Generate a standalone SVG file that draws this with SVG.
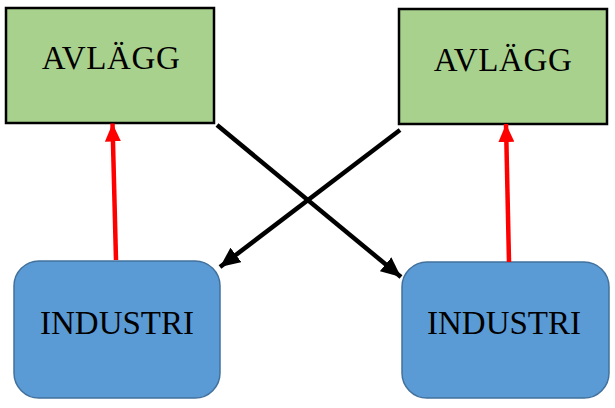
<svg xmlns="http://www.w3.org/2000/svg" width="615" height="408" viewBox="0 0 615 408">
<style>
.av{fill:#A9D18E;stroke:#000;stroke-width:2.5}
.ind{fill:#5B9BD5;stroke:#41719C;stroke-width:1.5}
.t{font-family:"Liberation Serif","Times New Roman",serif;font-size:33px;fill:#000;text-anchor:middle}
.sp{letter-spacing:0.6px}
.red{stroke:#FF0000;stroke-width:4.5;fill:none}
.blk{stroke:#000;stroke-width:4.5;fill:none}
</style>
<defs>
<marker id="ar" markerUnits="userSpaceOnUse" viewBox="0 0 18 16" refX="18" refY="8" markerWidth="18" markerHeight="16" orient="auto">
<path d="M0,0 L18,8 L0,16 Z" fill="#FF0000"/>
</marker>
<marker id="ab" markerUnits="userSpaceOnUse" viewBox="0 0 20 18" refX="20" refY="9" markerWidth="20" markerHeight="18" orient="auto">
<path d="M0,0 L20,9 L0,18 Z" fill="#000"/>
</marker>
</defs>
<g id="avlagg-left">
<rect class="av" x="6" y="8" width="208" height="115"/>
<text class="t sp" x="111" y="69">AVLÄGG</text>
</g>
<g id="avlagg-right">
<rect class="av" x="399" y="9" width="208" height="115"/>
<text class="t sp" x="503" y="71">AVLÄGG</text>
</g>
<g id="industri-left">
<rect class="ind" x="14" y="261" width="206" height="137" rx="25" ry="25"/>
<text class="t" x="117" y="334">INDUSTRI</text>
</g>
<g id="industri-right">
<rect class="ind" x="402" y="262" width="207" height="136" rx="25" ry="25"/>
<text class="t" x="504" y="334">INDUSTRI</text>
</g>
<g id="connectors">
<line class="red" x1="116" y1="260" x2="112.5" y2="123.5" marker-end="url(#ar)"/>
<line class="red" x1="509" y1="262" x2="506" y2="124" marker-end="url(#ar)"/>
<line class="blk" x1="217" y1="125" x2="401" y2="277" marker-end="url(#ab)"/>
<line class="blk" x1="400" y1="130" x2="220" y2="267" marker-end="url(#ab)"/>
</g>
</svg>
